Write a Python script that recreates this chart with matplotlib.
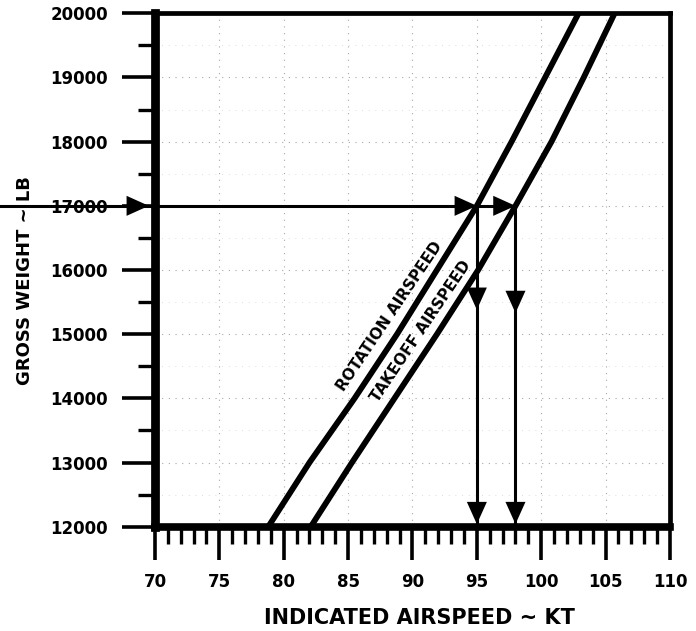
import matplotlib
matplotlib.use("Agg")
import matplotlib.pyplot as plt
from matplotlib.ticker import MultipleLocator

# Datos
peso = [12000, 13000, 14000, 15000, 16000, 17000, 18000, 19000, 20000]
v_rotacion = [78.8, 82.0, 85.5, 88.8, 91.9, 95.0, 97.7, 100.3, 102.9]
v_despegue = [82.1, 85.3, 88.6, 91.9, 95.1, 98.0, 100.8, 103.3, 105.7]

# Ejemplo: peso de 17000 lb
peso_ejemplo = 17000
rot_ejemplo = 95
desp_ejemplo = 98

x_ticks = [70, 75, 80, 85, 90, 95, 100, 105, 110]
y_ticks = [12000, 13000, 14000, 15000, 16000, 17000, 18000, 19000, 20000]

plt.rcParams['font.family'] = ['DejaVu Sans']
plt.rcParams['font.weight'] = 'bold'

fig = plt.figure(figsize=(6.96, 6.31), dpi=100)
fig.patch.set_facecolor('white')
ax = fig.add_axes([0.2227, 0.1653, 0.7399, 0.8136])

ax.set_xlim(70, 110)
ax.set_ylim(12000, 20000)

# Spines gruesos como en el original
ax.spines['left'].set_linewidth(6.3)
ax.spines['bottom'].set_linewidth(5.5)
ax.spines['top'].set_linewidth(3.4)
ax.spines['right'].set_linewidth(3.4)

ax.set_xticks(x_ticks)
ax.set_yticks(y_ticks)
ax.xaxis.set_minor_locator(MultipleLocator(1))
ax.yaxis.set_minor_locator(MultipleLocator(500))
ax.tick_params(axis='both', which='major', direction='out', length=24, width=2.6,
               labelsize=12)
ax.tick_params(axis='x', which='major', pad=9)
ax.tick_params(axis='y', which='major', pad=10)
ax.tick_params(axis='both', which='minor', direction='out', length=12, width=2.4)
for lbl in ax.get_xticklabels() + ax.get_yticklabels():
    lbl.set_fontweight('bold')

# Cuadricula punteada
ax.grid(True, which='major', color='#a8a8a8', linestyle=(0, (1, 5)), linewidth=0.8)
ax.grid(True, which='minor', axis='y', color='#d0d0d0', linestyle=(0, (1, 7)), linewidth=0.6)
ax.set_axisbelow(True)

# Curvas
ax.plot(v_rotacion, peso, color='black', linewidth=4.2, solid_capstyle='butt', zorder=4)
ax.plot(v_despegue, peso, color='black', linewidth=4.2, solid_capstyle='butt', zorder=4)

ax.text(88.2, 15280, 'ROTATION AIRSPEED', rotation=56, ha='center', va='center',
        fontsize=11, fontweight='bold', rotation_mode='anchor', zorder=5)
ax.text(90.65, 15040, 'TAKEOFF AIRSPEED', rotation=56, ha='center', va='center',
        fontsize=11, fontweight='bold', rotation_mode='anchor', zorder=5)

# Lineas guia del ejemplo
ytr = ax.get_yaxis_transform()
ax.plot([-0.31, 0], [peso_ejemplo, peso_ejemplo], transform=ytr, color='black',
        linewidth=2.2, clip_on=False, zorder=6)
ax.plot([70, desp_ejemplo], [peso_ejemplo, peso_ejemplo], color='black', linewidth=2.2, zorder=6)
ax.plot([rot_ejemplo, rot_ejemplo], [12000, peso_ejemplo], color='black', linewidth=2.2, zorder=6)
ax.plot([desp_ejemplo, desp_ejemplo], [12000, peso_ejemplo], color='black', linewidth=2.2, zorder=6)

flecha = dict(arrowstyle='-|>,head_length=0.8,head_width=0.36', color='black',
              lw=0.01, shrinkA=0, shrinkB=0, mutation_scale=20)

# flecha hacia el eje
ax.annotate('', xy=(-0.012, peso_ejemplo), xytext=(-0.06, peso_ejemplo),
            xycoords=ytr, textcoords=ytr, arrowprops=flecha, annotation_clip=False, zorder=7)
# flechas horizontales hacia las curvas
for v in [rot_ejemplo, desp_ejemplo]:
    ax.annotate('', xy=(v, peso_ejemplo), xytext=(v - 2.5, peso_ejemplo),
                arrowprops=flecha, zorder=7)
# flechas verticales hacia abajo
for v, y_mid in [(rot_ejemplo, 15380), (desp_ejemplo, 15330)]:
    ax.annotate('', xy=(v, y_mid), xytext=(v, y_mid + 500), arrowprops=flecha, zorder=7)
    ax.annotate('', xy=(v, 12040), xytext=(v, 12540), arrowprops=flecha, zorder=7)

fig.text(0.036, 0.556, 'GROSS WEIGHT ~ LB', rotation=90, ha='center', va='center',
         fontsize=13, fontweight='bold')
fig.text(0.603, 0.021, 'INDICATED AIRSPEED ~ KT', ha='center', va='center',
         fontsize=15, fontweight='bold')

fig.savefig('out.png', dpi=100, facecolor='white')
